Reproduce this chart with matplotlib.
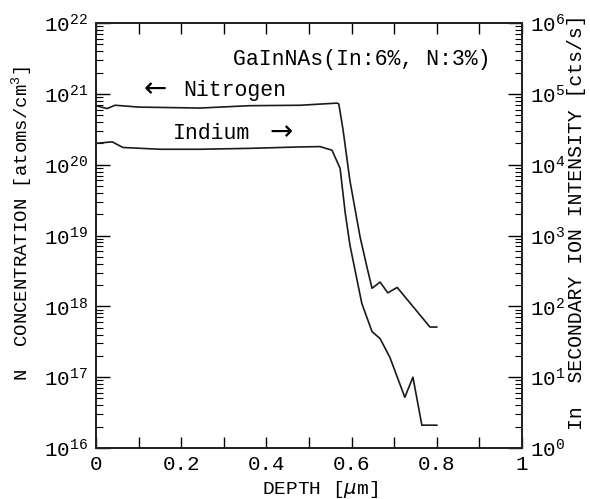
import math
import matplotlib.pyplot as plt
from matplotlib.ticker import FixedLocator, LogLocator, FuncFormatter, NullFormatter

# SIMS depth profile of GaInNAs (In:6%, N:3%)
# nitrogen concentration on the left axis, In secondary ion counts on the right
n_depth = [0.0, 0.026, 0.045, 0.10, 0.244, 0.36, 0.48, 0.566, 0.570, 0.580,
           0.596, 0.620, 0.636, 0.648, 0.667, 0.685, 0.707, 0.784, 0.80]
n_conc = [6.8e20, 6.2e20, 6.9e20, 6.5e20, 6.3e20, 6.8e20, 6.9e20, 7.4e20, 7.2e20, 3.1e20,
          6.0e19, 9.5e18, 3.6e18, 1.8e18, 2.2e18, 1.55e18, 1.85e18, 5.1e17, 5.1e17]

in_depth = [0.0, 0.038, 0.063, 0.15, 0.244, 0.36, 0.48, 0.526, 0.554, 0.573,
            0.585, 0.596, 0.624, 0.648, 0.667, 0.690, 0.725, 0.744, 0.765, 0.80]
in_counts = [2.0e4, 2.1e4, 1.75e4, 1.65e4, 1.65e4, 1.7e4, 1.78e4, 1.8e4, 1.6e4, 8.9e3,
             2.1e3, 7.4e2, 1.1e2, 44, 35, 19, 5.2, 10, 2.1, 2.1]

x_ticks = [0, 0.2, 0.4, 0.6, 0.8, 1.0]
x_tick_labels = ["0", "0.2", "0.4", "0.6", "0.8", "1"]

font = ["Liberation Mono", "DejaVu Sans Mono"]
plt.rcParams["font.family"] = font
plt.rcParams["mathtext.fontset"] = "custom"
plt.rcParams["mathtext.rm"] = "Liberation Mono"
plt.rcParams["mathtext.it"] = "DejaVu Sans:italic"

fig = plt.figure(figsize=(5.9, 4.99), dpi=100)
ax = fig.add_axes([0.1627, 0.1022, 0.722, 0.8517])
ax2 = ax.twinx()

ax.plot(n_depth, n_conc, color="#1a1a1a", lw=1.2)
ax2.plot(in_depth, in_counts, color="#1a1a1a", lw=1.2)

ax.set_xlim(0, 1.0)
ax.set_yscale("log")
ax.set_ylim(1e16, 1e22)
ax2.set_yscale("log")
ax2.set_ylim(1e0, 1e6)

decade = FuncFormatter(lambda v, p: r"$\mathregular{10^{%d}}$" % round(math.log10(v)))

ax.xaxis.set_major_locator(FixedLocator(x_ticks))
ax.set_xticklabels(x_tick_labels)
ax.xaxis.set_minor_locator(FixedLocator([0.1, 0.3, 0.5, 0.7, 0.9]))
ax.tick_params(axis="x", which="both", direction="in", length=8, width=1.0,
               top=True, labelsize=15, pad=5)

for a in (ax, ax2):
    a.yaxis.set_major_locator(LogLocator(base=10, numticks=10))
    a.yaxis.set_minor_locator(LogLocator(base=10, subs=range(2, 10), numticks=10))
    a.yaxis.set_major_formatter(decade)
    a.yaxis.set_minor_formatter(NullFormatter())
    a.tick_params(axis="y", which="major", direction="in", length=10, width=1.0,
                  labelsize=15, pad=6)
    a.tick_params(axis="y", which="minor", direction="in", length=5, width=0.8)
    a.xaxis.offsetText.set_visible(False)
    for s in a.spines.values():
        s.set_linewidth(1.3)
        s.set_color("#222222")

ax.set_xlabel(r"DEPTH [$\mu$m]", fontsize=14)
ax.xaxis.set_label_coords(0.526, -0.072)
ax.set_ylabel(r"N  CONCENTRATION [atoms/cm$^{3}$]", fontsize=13.7)
ax.yaxis.set_label_coords(-0.143, 0.527)
ax2.set_ylabel("In  SECONDARY ION INTENSITY [cts/s]", fontsize=14.2, rotation=90)
ax2.yaxis.set_label_coords(1.106, 0.532)

ax.text(0.624, 0.915, "GaInNAs(In:6%, N:3%)", transform=ax.transAxes,
        fontsize=15.5, ha="center", va="center")

# curve labels, arrows set in a sans font so they come out full size
ax.text(0.138, 0.845, "\u2190", transform=ax.transAxes, family="DejaVu Sans",
        fontsize=20, ha="center", va="center")
ax.text(0.204, 0.842, "Nitrogen", transform=ax.transAxes,
        fontsize=15.5, ha="left", va="center")
ax.text(0.181, 0.741, "Indium", transform=ax.transAxes,
        fontsize=15.5, ha="left", va="center")
ax.text(0.434, 0.744, "\u2192", transform=ax.transAxes, family="DejaVu Sans",
        fontsize=20, ha="center", va="center")

fig.savefig("out.png", dpi=100)
